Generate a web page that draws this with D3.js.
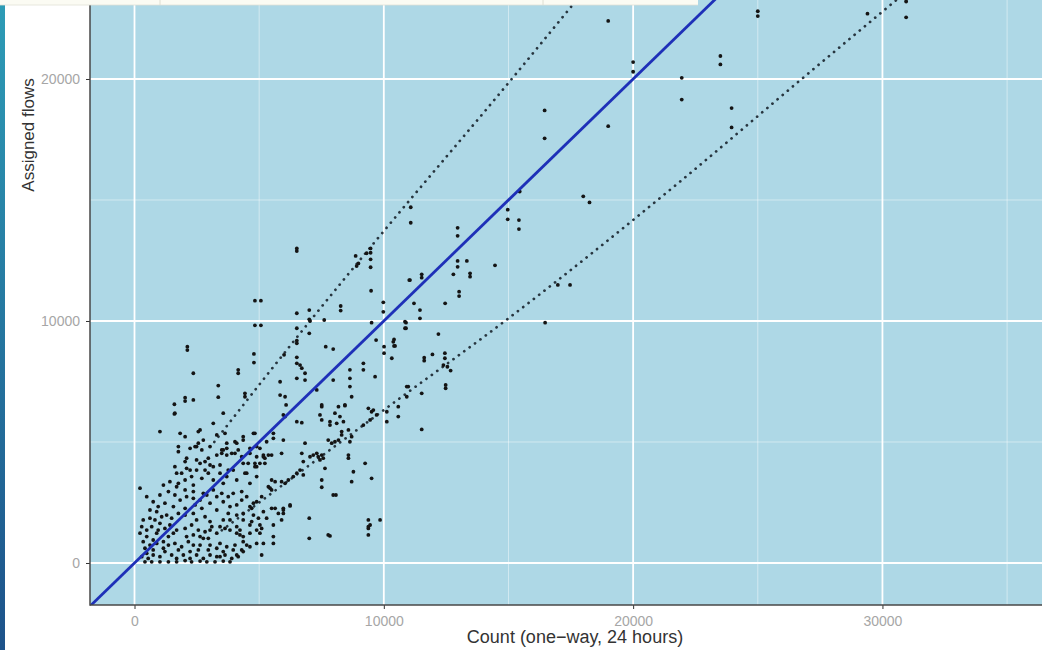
<!DOCTYPE html>
<html>
<head>
<meta charset="utf-8">
<script src="https://cdn.jsdelivr.net/npm/d3@7"></script>
<style>
  body { margin: 0; background: #fff; }
  svg { display: block; font-family: "Liberation Sans", Arial, sans-serif; }
</style>
</head>
<body>
<svg id="chart" width="1042" height="650"></svg>
<script>
// count vs assigned flow, one pair per site
const sites = [
  [19000,22400],[25000,22800],[25000,22600],[29400,22700],[30950,23200],[30950,22550],
  [20000,20700],[20000,20300],[23500,20950],[23500,20600],[21950,20050],[21950,19150],
  [23950,18800],[23950,18000],[16450,18700],[16450,17550],[19000,18050],[18000,15150],[18250,14900],
  [15450,15350],[14970,14600],[14970,14200],[15420,14170],[15420,13800],
  [12960,13850],[12960,13520],[11080,14700],[11080,14060],[14460,12300],
  [12960,12480],[13330,12480],[12960,12240],[12790,11930],[13460,11970],[13460,11830],
  [11520,11930],[11520,11790],[11050,11690],[13020,11210],[13020,11030],
  [11210,10730],[12460,10730],[11450,10450],[11450,10110],[16980,11490],[17470,11490],[16470,9930],
  [10850,9970],[10850,9700],[10410,9240],[10410,8970],[10320,8460],[12190,9460],
  [11950,8620],[11620,8480],[11620,8360],[12450,8670],[12450,8460],[12390,8180],[12550,8110],[12680,7950],
  [12480,7360],[12480,7220],[10980,7290],[11520,7010],[10580,6460],[10580,6050],[11520,5520],
  [6510,13000],[6510,12890],[4830,10840],[5070,10840],[4830,9820],[5070,9820],
  [2120,8940],[2120,8800],[4790,8640],[4790,8280],[2360,7840],[4160,7980],[4160,7840],
  [3360,7330],[3360,6850],[4430,7010],[4430,6870],[2030,6830],[2030,6690],[2360,6740],
  [1600,6560],[1600,6160],[3560,6190],
  [8870,12690],[8980,12380],[8910,12270],[9470,13000],[9470,12820],[9470,12550],[9470,12220],[9310,12800],
  [9490,11250],[9980,10770],[9980,10380],[8270,10620],[8270,10430],
  [6510,10320],[6510,9700],[6510,9190],[6510,9080],[7010,10450],[7010,10070],[7040,10000],[7010,9490],[7610,10040],
  [7670,8940],[7970,8840],[9510,9930],[9690,9210],
  [10010,8940],[10010,8670],[10380,9140],[10450,8970],[10890,9930],[10890,9700],[11020,11690],
  [6510,8500],[6510,8250],[6640,8180],[6710,8050],[6510,7630],[6840,7840],[6840,7560],[6000,8600],
  [5840,7490],[6040,6870],[6080,6530],[5840,6940],
  [7970,7560],[8640,7980],[8640,7630],[8640,7290],[8710,6870],[9180,8250],[9180,7980],[9650,7700],
  [8440,6500],[7510,6460],[7310,7150],
  [5970,6120],[6040,6050],[6510,5840],[6710,5800],[7440,6120],[7510,5910],[7840,5840],[8040,6190],
  [8240,6050],[8380,5840],[8110,5770],[9180,5700],[9450,5910],[9510,6250],[9710,6120],[10120,6250],
  [10120,5840],[10920,7290],[10920,6870],
  [7510,6530],[8180,6460],[8440,6530],[7840,5700],[8310,5430],[8310,5290],[8580,5500],[8710,5220],
  [9380,6390],[9580,6320],
  [5970,5080],[6840,4950],[6710,4530],[6770,4190],[6640,3840],[6510,3710],[6770,3640],[6370,3570],
  [7040,4390],[7170,4460],[7310,4530],[7370,4390],[7510,4460],[7440,4260],[7570,4330],[7640,3910],
  [7510,3430],[7510,3130],
  [7770,5080],[7910,4950],[8040,5010],[8180,5080],[8640,5010],[8580,4460],[8580,4330],[8780,3770],
  [8710,3360],[9250,4120],[9510,3500],
  [8080,2810],[7010,1850],[7010,1020],[7840,1120],
  [9380,1780],[9450,1570],[9380,1500],[9380,1430],[9850,1780],[9380,1160],
  [4770,5360],[5030,4740],[5170,4460],[5230,4330],[5370,4460],[5500,4460],[4830,4120],[5030,4120],
  [5230,4120],[5900,4530],
  [5500,3430],[5640,3360],[5900,3360],[6040,3290],[6170,3430],[5370,3150],[5440,3090],[5500,3020],
  [4770,2470],[4700,2260],[5100,2740],[5500,2260],[5640,2260],[5970,2260],[5970,2050],[5900,1780],
  [6240,2360],[5170,2120],[4970,1850],[5030,1570],[5100,1430],[5570,1570],[5300,1850],[5170,810],
  [5570,810],[5570,1090],[5100,330],[5030,1230],
  [1620,6190],[2630,5500],[3160,5770],[3500,4670],[3500,4530],[3700,4950],[3700,4740],[2560,4950],
  [2490,4810],[1830,5360],
  [4100,4950],[4360,5080],[4630,4530],[4900,4810],[5170,4390],[4030,4530],[4500,3710],[4900,3980],
  [5300,5010],[5570,5360],[5570,5150],
  [7770,1160],[4300,540],[4230,1360],[4230,1160],[4700,1710],[7970,2810],[6240,2400],[5970,2190],[5770,2050],
  [1020,5430],[2560,5430],[3300,5290],[3630,5360],[4030,5010],[4830,5360],
  [1760,4810],[1760,4600],[2090,4330],[2030,4190],[2430,4810],[2490,4260],[2630,4120],[2830,4190],
  [3030,4050],[2960,4330],[3300,4460],[3560,4670],[3700,4460],[3430,4050],[3900,4530],[4160,4670],
  [4300,4390],[4630,4740],[4900,4390],[4560,4120],[4830,3980],
  [1620,3980],[1690,3710],[2090,3910],[2490,3840],[1420,3360],[1760,3290],[2030,3430],[2290,3570],
  [2360,3220],[2700,3500],[2960,3710],[3430,3710],[3760,3840],[3160,3430],[3560,3290],[4100,3430],
  [4430,3710],[4630,3290],[4900,3570],[4300,2950],[4500,2740],
  [220,3090],[490,2740],[750,2530],[1360,2950],[1620,2810],[1830,2600],[2090,2740],[2360,2670],
  [2630,2600],[2900,2810],[3030,2470],[3300,2740],[3560,2530],[3830,2330],[4100,2400],[4630,2330],
  [4900,2530],[3160,3020],[3300,2190],
  [620,2190],[890,2120],[1090,1910],[1290,1980],[1490,1850],[1760,2050],[2030,1980],[2360,2050],
  [2490,1780],[2830,1910],[3030,1710],[3560,1780],[3760,2050],[4100,1980],[4360,1780],[4630,1570],
  [4100,1500],[3630,1430],
  [220,1230],[490,1360],[690,1500],[950,1360],[1220,1430],[1420,1570],[1690,1360],[2030,1430],
  [2290,1570],[2560,1360],[2830,1290],[3100,1500],[3300,1230],[2960,1020],[2630,1090],
  [350,880],[620,740],[890,810],[1160,880],[1360,740],[1620,810],[1890,670],[2160,880],
  [2360,740],[2630,740],[3030,740],[3430,810],[3700,670],[4030,740],[4360,880],[4630,670],[4900,810],
  [490,400],[750,330],[1020,260],[1220,470],[1490,330],[1690,190],[1960,330],[2230,190],
  [2490,330],[2760,190],[3030,330],[3300,260],[3630,330],[3900,190],[4160,260],[4360,470],
  [420,50],[690,50],[1020,50],[1360,50],[1690,50],[2030,100],[2290,50],[2630,80],
  [2900,50],[3230,50],[3560,80],[3830,50],
  [620,1850],[820,1780],[1020,1640],[890,1230],[750,950],[1360,1090],[1560,1230],[2090,1090],
  [2360,1160],[2760,1020],[1160,610],[1760,540],[2230,470],[2560,540],[2960,540],[3300,610],
  [3560,470],[3960,540],[550,190],[750,540],[950,2330],[1220,2470],[1560,2330],[2030,2260],
  [2430,2400],[2700,2260],[2760,2880],[2360,2950],[2030,3020],[1690,3150],[1160,3220],[1020,2810],
  [3500,2880],[3760,2740],[3960,2880],[4300,2600],[1890,3710],[2230,3840],[2830,3840],[3160,3980],
  [3700,3570],[3960,3840],[4360,4120],[2700,4670],[3030,4810],[2230,4740],[2030,5220],[2760,5080],
  [4360,5220],[350,1780],[290,1500],[420,610],[290,260],[490,1090],[3030,1360],[3430,1500],
  [3830,1360],[4100,1230],[4360,1090],[4630,1230],[4900,1360],[3830,1780],[4360,2050],[4770,1980],
  [4500,740],[4100,330],[3430,260]
];

// dotted acceptance bounds
const upperBound = [[3200,5000],[7040,10000],[9650,13280],[15130,20000],[18000,23600]];
const lowerBound = [[3500,1350],[10500,6700],[14860,10000],[21880,15760],[26760,20000],[31000,23640]];

const xTicks = [0, 10000, 20000, 30000];
const yTicks = [0, 10000, 20000];
const xMinor = [5000, 15000, 25000, 35000];
const yMinor = [5000, 15000];

const width = 1042, height = 650;
const pLeft = 90, pRight = 1042, pTop = 0, pBottom = 605;

const svg = d3.select("#chart");

const x = d3.scaleLinear().domain([-1785, 36400]).range([pLeft, pRight]);
const y = d3.scaleLinear().domain([-1736, 23264]).range([pBottom, pTop]);

const defs = svg.append("defs");

// side strip left over from the slide
const grad = defs.append("linearGradient")
  .attr("id", "strip").attr("x1", 0).attr("x2", 0).attr("y1", 0).attr("y2", 1);
grad.append("stop").attr("offset", "0%").attr("stop-color", "#2d9cb6");
grad.append("stop").attr("offset", "100%").attr("stop-color", "#1d528a");

defs.append("clipPath").attr("id", "panel")
  .append("rect").attr("x", pLeft).attr("y", pTop)
  .attr("width", pRight - pLeft).attr("height", pBottom - pTop);

// panel
svg.append("rect")
  .attr("x", pLeft).attr("y", pTop)
  .attr("width", pRight - pLeft).attr("height", pBottom - pTop)
  .attr("fill", "#aed8e6");

const grid = svg.append("g");
grid.selectAll(".vmin").data(xMinor).enter().append("line")
  .attr("x1", d => x(d)).attr("x2", d => x(d)).attr("y1", pTop).attr("y2", pBottom)
  .attr("stroke", "#ffffff").attr("stroke-opacity", 0.5).attr("stroke-width", 0.9);
grid.selectAll(".hmin").data(yMinor).enter().append("line")
  .attr("x1", pLeft).attr("x2", pRight).attr("y1", d => y(d)).attr("y2", d => y(d))
  .attr("stroke", "#ffffff").attr("stroke-opacity", 0.5).attr("stroke-width", 0.9);
grid.selectAll(".vmaj").data(xTicks).enter().append("line")
  .attr("x1", d => x(d)).attr("x2", d => x(d)).attr("y1", pTop).attr("y2", pBottom)
  .attr("stroke", "#ffffff").attr("stroke-width", 1.8);
grid.selectAll(".hmaj").data(yTicks).enter().append("line")
  .attr("x1", pLeft).attr("x2", pRight).attr("y1", d => y(d)).attr("y2", d => y(d))
  .attr("stroke", "#ffffff").attr("stroke-width", 1.8);

const plot = svg.append("g").attr("clip-path", "url(#panel)");

const line = d3.line().x(d => x(d[0])).y(d => y(d[1])).curve(d3.curveMonotoneX);

[upperBound, lowerBound].forEach(b => {
  plot.append("path")
    .attr("d", line(b))
    .attr("fill", "none")
    .attr("stroke", "#27353f")
    .attr("stroke-width", 2.7)
    .attr("stroke-linecap", "round")
    .attr("stroke-dasharray", "0.1 6.6");
});

plot.selectAll("circle").data(sites).enter().append("circle")
  .attr("cx", d => x(d[0]))
  .attr("cy", d => y(d[1]))
  .attr("r", 1.9)
  .attr("fill", "#141414");

// y = x
plot.append("line")
  .attr("x1", x(-2000)).attr("y1", y(-2000))
  .attr("x2", x(26000)).attr("y2", y(26000))
  .attr("stroke", "#1e30b8")
  .attr("stroke-width", 2.8);

// axes
const xAxis = svg.append("g")
  .attr("transform", `translate(0,${pBottom})`)
  .call(d3.axisBottom(x).tickValues(xTicks).tickSize(4).tickPadding(7).tickFormat(d3.format("d")));
const yAxis = svg.append("g")
  .attr("transform", `translate(${pLeft},0)`)
  .call(d3.axisLeft(y).tickValues(yTicks).tickSize(4).tickPadding(6).tickFormat(d3.format("d")));

[xAxis, yAxis].forEach(a => {
  a.select(".domain").remove();
  a.selectAll(".tick line").attr("stroke", "#333");
  a.selectAll(".tick text")
    .attr("fill", "#a6a6a6")
    .style("font-size", "14px")
    .style("font-family", "\"Liberation Sans\", Arial, sans-serif");
});

svg.append("line")
  .attr("x1", pLeft).attr("x2", pLeft).attr("y1", pTop).attr("y2", pBottom + 0.7)
  .attr("stroke", "#474747").attr("stroke-width", 1.5);
svg.append("line")
  .attr("x1", pLeft).attr("x2", pRight).attr("y1", pBottom).attr("y2", pBottom)
  .attr("stroke", "#474747").attr("stroke-width", 1.5);

svg.append("text")
  .attr("x", 575).attr("y", 643)
  .attr("text-anchor", "middle")
  .attr("fill", "#333")
  .style("font-size", "18px")
  .text("Count (one\u2212way, 24 hours)");

svg.append("text")
  .attr("transform", "translate(34,135) rotate(-90)")
  .attr("text-anchor", "middle")
  .attr("fill", "#333")
  .style("font-size", "17px")
  .text("Assigned flows");

svg.append("rect")
  .attr("x", 0).attr("y", 0).attr("width", 5).attr("height", height)
  .attr("fill", "url(#strip)");

// top banner
svg.append("rect")
  .attr("x", 0).attr("y", 0).attr("width", 698).attr("height", 5)
  .attr("fill", "#fbfbf3");
svg.append("line")
  .attr("x1", 0).attr("x2", 698).attr("y1", 5).attr("y2", 5)
  .attr("stroke", "#e2e2d6").attr("stroke-width", 0.8);
svg.selectAll(".sep").data([160, 543]).enter().append("line")
  .attr("x1", d => d).attr("x2", d => d).attr("y1", 0).attr("y2", 5)
  .attr("stroke", "#deded2").attr("stroke-width", 1);
</script>
</body>
</html>
